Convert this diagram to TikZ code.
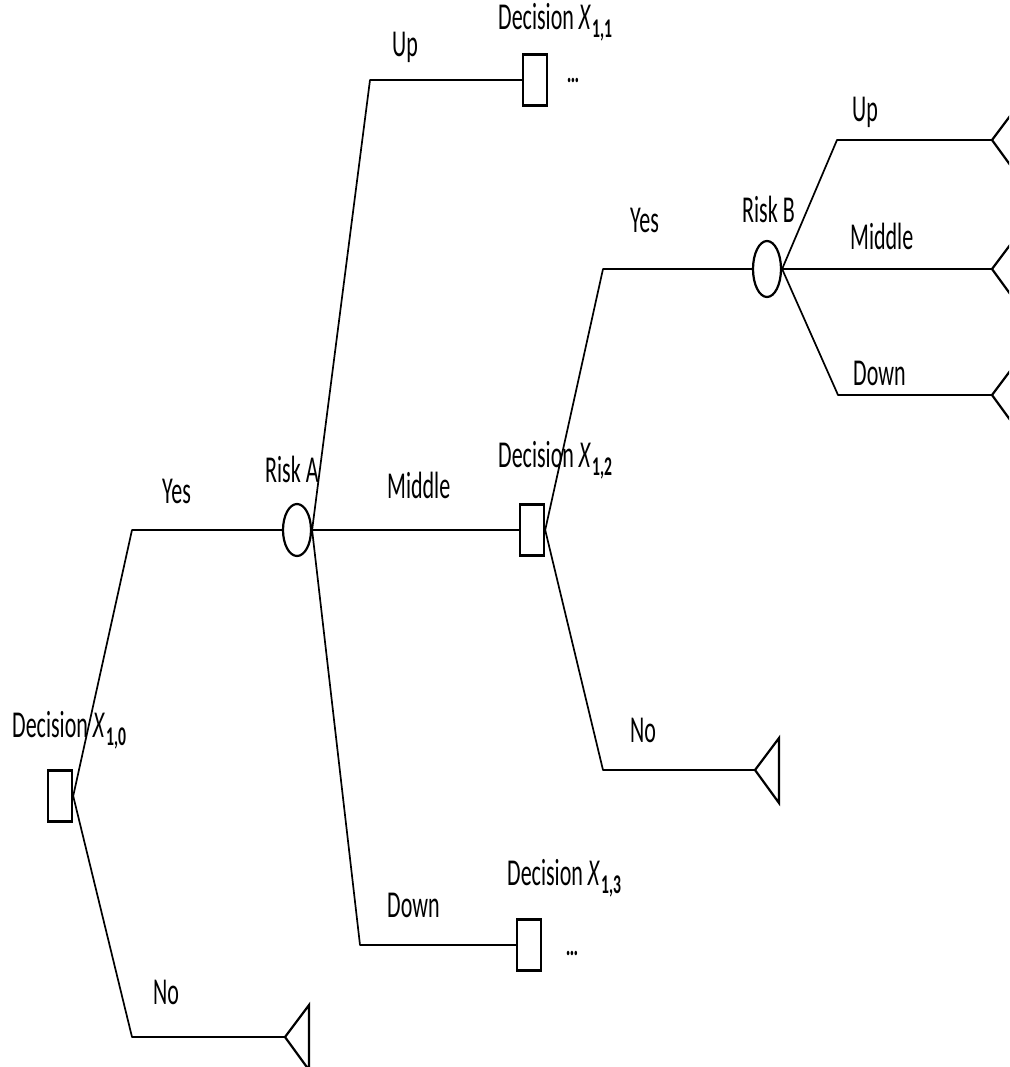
\documentclass[tikz,border=0pt]{standalone}
\usepackage{fontspec}
\setmainfont{Carlito}[FakeStretch=0.58]
\usetikzlibrary{shapes.geometric}
\tikzset{
  decision/.style={draw,line width=2.4pt,minimum width=24pt,minimum height=51pt,
                   inner sep=0pt},
  chance/.style  ={draw,ellipse,line width=2.2pt,minimum width=28pt,minimum height=52pt,
                   inner sep=0pt},
  branch/.style  ={line width=1.7pt,line join=round},
  lbl/.style     ={font=\fontsize{38}{40}\selectfont,inner sep=0pt,anchor=base west},
  more/.style    ={font=\fontsize{30}{30}\selectfont\bfseries,inner sep=0pt},
  leaf/.pic      ={\draw[line width=2.2pt] (0,0) -- (24,-32) -- (24,33) -- cycle;},
}
\newcommand{\xsub}[1]{\textit{X}\kern1pt\raisebox{-8pt}{\fontsize{27}{27}\selectfont\bfseries #1}}

\begin{document}
\begin{tikzpicture}[x=1pt,y=-1pt]
\useasboundingbox (0,0) rectangle (1009,1067);
\clip (0,0) rectangle (1009,1067);
% decisions and risks
\node[decision] (d10) at (60,796) {};
\node[chance]   (rA)  at (297,530) {};
\node[decision] (d11) at (535,80) {};
\node[decision] (d12) at (532,530) {};
\node[decision] (d13) at (529,945) {};
\node[chance,minimum height=56pt] (rB) at (767,269) {};
% end points
\coordinate (e0) at (285,1037);
\coordinate (e1) at (755,770);
\coordinate (e2) at (992,140);
\coordinate (e3) at (992,269);
\coordinate (e4) at (992,395);
\foreach \e in {e0,e1,e2,e3,e4} \pic at (\e) {leaf};
% corners
\coordinate (k1) at (132,530);
\coordinate (k2) at (132,1037);
\coordinate (k3) at (370,80);
\coordinate (k4) at (360,945);
\coordinate (k5) at (603,269);
\coordinate (k6) at (603,770);
\coordinate (k7) at (837,140);
\coordinate (k8) at (838,395);
% branches
\draw[branch] (d10.east) -- (k1) -- (rA.west);
\draw[branch] (d10.east) -- (k2) -- (e0);
\draw[branch] (rA.east) -- (k3) -- (d11.west);
\draw[branch] (rA.east) -- (d12.west);
\draw[branch] (rA.east) -- (k4) -- (d13.west);
\draw[branch] (d12.east) -- (k5) -- (rB.west);
\draw[branch] (d12.east) -- (k6) -- (e1);
\draw[branch] (rB.east) -- (k7) -- (e2);
\draw[branch] (rB.east) -- (e3);
\draw[branch] (rB.east) -- (k8) -- (e4);
% labels
\node[lbl] (t10) at (12,737) {Decision \xsub{1,0}};
\node[lbl] (t11) at (498,30) {Decision \xsub{1,1}};
\node[lbl] (t12) at (498,467) {Decision \xsub{1,2}};
\node[lbl] (t13) at (507,885) {Decision \xsub{1,3}};
\node[lbl] (trA) at (265,482) {Risk A};
\node[lbl] (trB) at (742,223) {Risk B};
\node[lbl] (y1) at (162,503) {Yes};
\node[lbl] (n1) at (153,1004) {No};
\node[lbl] (y2) at (630,233) {Yes};
\node[lbl] (n2) at (630,742) {No};
\node[lbl] (uA) at (392,57) {Up};
\node[lbl] (mA) at (387,498) {Middle};
\node[lbl] (dA) at (387,917) {Down};
\node[lbl] (uB) at (852,122) {Up};
\node[lbl] (mB) at (850,250) {Middle};
\node[lbl] (dB) at (853,385) {Down};
\node[more] (m11) at (573,80) {\textellipsis};
\node[more] (m13) at (572,953) {\textellipsis};
\end{tikzpicture}
\end{document}
